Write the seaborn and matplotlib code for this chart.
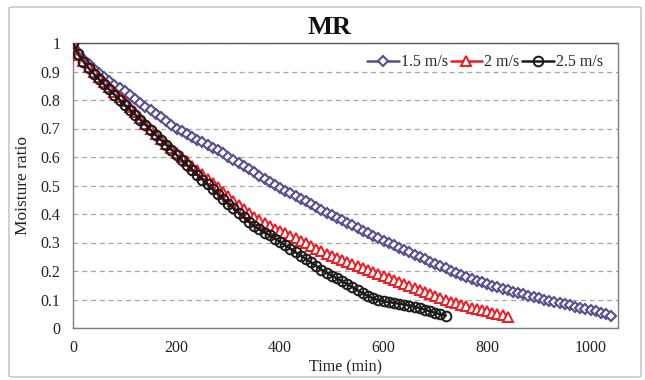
import numpy as np
import pandas as pd
import matplotlib
matplotlib.use("Agg")
import matplotlib.pyplot as plt
import seaborn as sns
from matplotlib.patches import FancyBboxPatch

# ---- data ----
time_blue = list(range(0, 1050, 10))
mr_blue = [1.000, 0.970, 0.945, 0.925, 0.910, 0.895, 0.880, 0.866, 0.853, 0.842,
           0.830, 0.817, 0.803, 0.790, 0.777, 0.765, 0.752, 0.740, 0.726, 0.713,
           0.700, 0.690, 0.680, 0.670, 0.660, 0.651, 0.641, 0.632, 0.623, 0.614,
           0.600, 0.590, 0.579, 0.568, 0.557, 0.546, 0.535, 0.524, 0.513, 0.502,
           0.491, 0.481, 0.472, 0.463, 0.454, 0.445, 0.435, 0.425, 0.415, 0.405,
           0.396, 0.387, 0.378, 0.369, 0.360, 0.351, 0.342, 0.333, 0.324, 0.316,
           0.307, 0.299, 0.290, 0.282, 0.273, 0.265, 0.257, 0.249, 0.241, 0.233,
           0.225, 0.217, 0.209, 0.201, 0.193, 0.186, 0.179, 0.172, 0.166, 0.160,
           0.154, 0.148, 0.143, 0.138, 0.133, 0.128, 0.123, 0.119, 0.114, 0.109,
           0.104, 0.100, 0.095, 0.091, 0.087, 0.083, 0.079, 0.075, 0.071, 0.067,
           0.063, 0.058, 0.053, 0.048, 0.043]

time_red = list(range(0, 850, 10))
mr_red = [1.000, 0.958, 0.937, 0.917, 0.899, 0.881, 0.863, 0.846, 0.829, 0.812,
          0.796, 0.777, 0.757, 0.737, 0.717, 0.698, 0.681, 0.664, 0.647, 0.631,
          0.615, 0.600, 0.585, 0.569, 0.554, 0.539, 0.524, 0.509, 0.493, 0.478,
          0.462, 0.447, 0.432, 0.417, 0.402, 0.389, 0.378, 0.368, 0.358, 0.349,
          0.340, 0.332, 0.324, 0.316, 0.307, 0.298, 0.288, 0.278, 0.269, 0.261,
          0.253, 0.245, 0.237, 0.230, 0.223, 0.216, 0.209, 0.202, 0.195, 0.188,
          0.181, 0.174, 0.167, 0.160, 0.153, 0.146, 0.139, 0.132, 0.126, 0.119,
          0.112, 0.105, 0.099, 0.092, 0.086, 0.080, 0.076, 0.071, 0.066, 0.062,
          0.058, 0.053, 0.049, 0.044, 0.040]

time_black = list(range(0, 730, 10))
mr_black = [1.000, 0.960, 0.935, 0.912, 0.892, 0.873, 0.855, 0.837, 0.819, 0.801,
            0.783, 0.766, 0.749, 0.731, 0.713, 0.695, 0.677, 0.660, 0.643, 0.626,
            0.608, 0.590, 0.573, 0.556, 0.538, 0.521, 0.504, 0.486, 0.469, 0.452,
            0.436, 0.420, 0.404, 0.388, 0.372, 0.357, 0.346, 0.335, 0.325, 0.314,
            0.302, 0.290, 0.278, 0.266, 0.254, 0.242, 0.230, 0.218, 0.205, 0.194,
            0.184, 0.174, 0.164, 0.154, 0.143, 0.132, 0.122, 0.112, 0.104, 0.098,
            0.094, 0.091, 0.088, 0.085, 0.082, 0.078, 0.074, 0.070, 0.064, 0.058,
            0.053, 0.048, 0.043]

series_labels = ["1.5 m/s", "2 m/s", "2.5 m/s"]
x_ticks = [0, 200, 400, 600, 800, 1000]
y_ticks = [0, 0.1, 0.2, 0.3, 0.4, 0.5, 0.6, 0.7, 0.8, 0.9, 1]
y_tick_labels = ["0", "0.1", "0.2", "0.3", "0.4", "0.5", "0.6", "0.7", "0.8", "0.9", "1"]

# ---- styling ----
sns.set_theme(style="white")
plt.rcParams['font.family'] = ['Liberation Serif', 'DejaVu Serif']

fig = plt.figure(figsize=(6.45, 3.8), dpi=100)
ax_w = 617.5 - 73
ax = fig.add_axes([73 / 645, 1 - 328 / 380, ax_w / 645, (328 - 43) / 380])

# outer chart border
fig.patches.append(FancyBboxPatch((9 / 645, 3 / 380), 632 / 645, 370 / 380,
                                  boxstyle="round,pad=0,rounding_size=0.004",
                                  transform=fig.transFigure, fill=False,
                                  edgecolor="#bfbfbf", linewidth=1.0))

styles = [
    dict(color="#564e8f", marker="D", ms=5.2, mfc="white", mec="#564e8f", mew=1.5),
    dict(color="#ed1c24", marker="^", ms=7.0, mfc="white", mec="#ed1c24", mew=1.4),
    dict(color="#1a1a1a", marker="o", ms=7.0, mfc="none", mec="#1a1a1a", mew=1.4),
]
datasets = [(time_blue, mr_blue), (time_red, mr_red), (time_black, mr_black)]
for (t, m), lab, st in zip(datasets, series_labels, styles):
    df = pd.DataFrame({"t": t, "mr": m})
    sns.lineplot(data=df, x="t", y="mr", ax=ax, label=lab, color=st["color"],
                 marker=st["marker"], markersize=st["ms"], markerfacecolor=st["mfc"],
                 markeredgecolor=st["mec"], markeredgewidth=st["mew"], linewidth=1.8,
                 zorder=3)

ax.set_xlim(0, 1052)
ax.set_ylim(0, 1)
ax.set_xticks(x_ticks)
ax.set_yticks(y_ticks)
ax.set_yticklabels(y_tick_labels)
ax.tick_params(axis="both", length=0, labelsize=11.5, colors="#222222")
ax.tick_params(axis="x", pad=9)
ax.tick_params(axis="y", pad=9)
ax.yaxis.grid(True, color="#a6a6a6", linestyle=(0, (4, 3)), linewidth=0.9)
ax.xaxis.grid(False)
for s in ax.spines.values():
    s.set_color("#7f7f7f")
    s.set_linewidth(1.0)
ax.spines["top"].set_color("#595959")

ax.set_xlabel("Time (min)", fontsize=11.5, color="#222222", labelpad=2)
ax.set_ylabel("Moisture ratio", fontsize=12.5, color="#222222", labelpad=7)

fig.text(330 / 645, 1 - 28 / 380, "MR", ha="center", va="center",
         fontsize=19, fontweight="bold", color="#111111")

leg = ax.legend(loc="center right", ncol=3, frameon=False, fontsize=11.5,
                handlelength=2.0, handletextpad=0.12, columnspacing=0.15,
                borderpad=0, borderaxespad=0,
                bbox_to_anchor=((603 - 73) / ax_w, (328 - 62.5) / 285))

fig.savefig("out.png", dpi=100)
